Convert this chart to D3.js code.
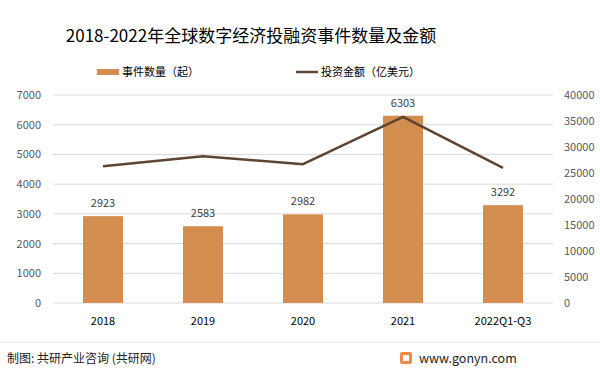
<!DOCTYPE html>
<html>
<head>
<meta charset="utf-8">
<script src="https://cdn.jsdelivr.net/npm/d3@7"></script>
<style>
  body{margin:0;background:#fff;}
  svg{font-family:"Microsoft YaHei","Noto Sans CJK SC",sans-serif;}
</style>
</head>
<body>
<div id="chart"></div>
<script>
const categories = ['2018','2019','2020','2021','2022Q1-Q3'];
const eventCounts = [2923,2583,2982,6303,3292];
const investAmounts = [26300,28200,26700,35800,26000];
const leftTicks = [0,1000,2000,3000,4000,5000,6000,7000];
const rightTicks = [0,5000,10000,15000,20000,25000,30000,35000,40000];

const W = 600, H = 373;
const margin = {top:95,left:53,right:47,bottom:70};

const svg = d3.select('#chart').append('svg')
  .attr('width',W).attr('height',H);

svg.append('rect').attr('width',W).attr('height',H).attr('fill','#fff');

const x = d3.scaleBand().domain(categories)
  .range([margin.left,W-margin.right]).paddingInner(0.6).paddingOuter(0.3);
const yL = d3.scaleLinear().domain([0,7000]).range([H-margin.bottom,margin.top]);
const yR = d3.scaleLinear().domain([0,40000]).range([H-margin.bottom,margin.top]);

// gridlines
svg.append('g').selectAll('line').data(leftTicks).join('line')
  .attr('x1',margin.left).attr('x2',W-margin.right)
  .attr('y1',d=>yL(d)).attr('y2',d=>yL(d))
  .attr('stroke','#d9d9d9').attr('stroke-width',1);

// left axis labels
svg.append('g').selectAll('text').data(leftTicks).join('text')
  .attr('x',41).attr('y',d=>yL(d)+4)
  .attr('text-anchor','end').attr('font-size',11).attr('fill','#595959')
  .text(d=>d);

// right axis labels
svg.append('g').selectAll('text').data(rightTicks).join('text')
  .attr('x',564).attr('y',d=>yR(d)+4)
  .attr('text-anchor','start').attr('font-size',11).attr('fill','#595959')
  .text(d=>d);

// bars
svg.append('g').selectAll('rect').data(eventCounts).join('rect')
  .attr('x',(d,i)=>x(categories[i])).attr('width',x.bandwidth())
  .attr('y',d=>yL(d)).attr('height',d=>yL(0)-yL(d))
  .attr('fill','#D38D4F');

// bar labels
svg.append('g').selectAll('text').data(eventCounts).join('text')
  .attr('x',(d,i)=>x(categories[i])+x.bandwidth()/2)
  .attr('y',d=>yL(d)-9)
  .attr('text-anchor','middle').attr('font-size',11).attr('fill','#404040')
  .text(d=>d);

// line
const line = d3.line()
  .x((d,i)=>x(categories[i])+x.bandwidth()/2)
  .y(d=>yR(d));
svg.append('path').datum(investAmounts)
  .attr('d',line).attr('fill','none')
  .attr('stroke','#5E4532').attr('stroke-width',2.5)
  .attr('stroke-linejoin','round');

// x labels
svg.append('g').selectAll('text').data(categories).join('text')
  .attr('x',d=>x(d)+x.bandwidth()/2).attr('y',325)
  .attr('text-anchor','middle').attr('font-size',11).attr('fill','#000')
  .text(d=>d);

// title
svg.append('text').attr('x',251).attr('y',42)
  .attr('text-anchor','middle').attr('font-size',17).attr('fill','#000')
  .text('2018-2022年全球数字经济投融资事件数量及金额');

// legend
svg.append('rect').attr('x',97).attr('y',69).attr('width',22).attr('height',6).attr('fill','#D38D4F');
svg.append('text').attr('x',122).attr('y',76).attr('font-size',11).attr('fill','#000').text('事件数量（起）');
svg.append('line').attr('x1',296).attr('x2',318).attr('y1',72).attr('y2',72)
  .attr('stroke','#5E4532').attr('stroke-width',2.5);
svg.append('text').attr('x',321).attr('y',76).attr('font-size',11).attr('fill','#000').text('投资金额（亿美元）');

// footer
svg.append('line').attr('x1',0).attr('x2',W).attr('y1',342).attr('y2',342)
  .attr('stroke','#e6e6e6').attr('stroke-width',1);
svg.append('text').attr('x',7).attr('y',363).attr('font-size',12).attr('fill','#222')
  .text('制图: 共研产业咨询 (共研网)');
const logo = svg.append('g').attr('transform','translate(400,352)');
logo.append('rect').attr('width',12).attr('height',12).attr('rx',2).attr('fill','#F08A4B');
logo.append('rect').attr('x',3).attr('y',3).attr('width',6).attr('height',6).attr('fill','#fff');
svg.append('text').attr('x',419).attr('y',363).attr('font-size',12.5).attr('fill','#222')
  .text('www.gonyn.com');
</script>
</body>
</html>
